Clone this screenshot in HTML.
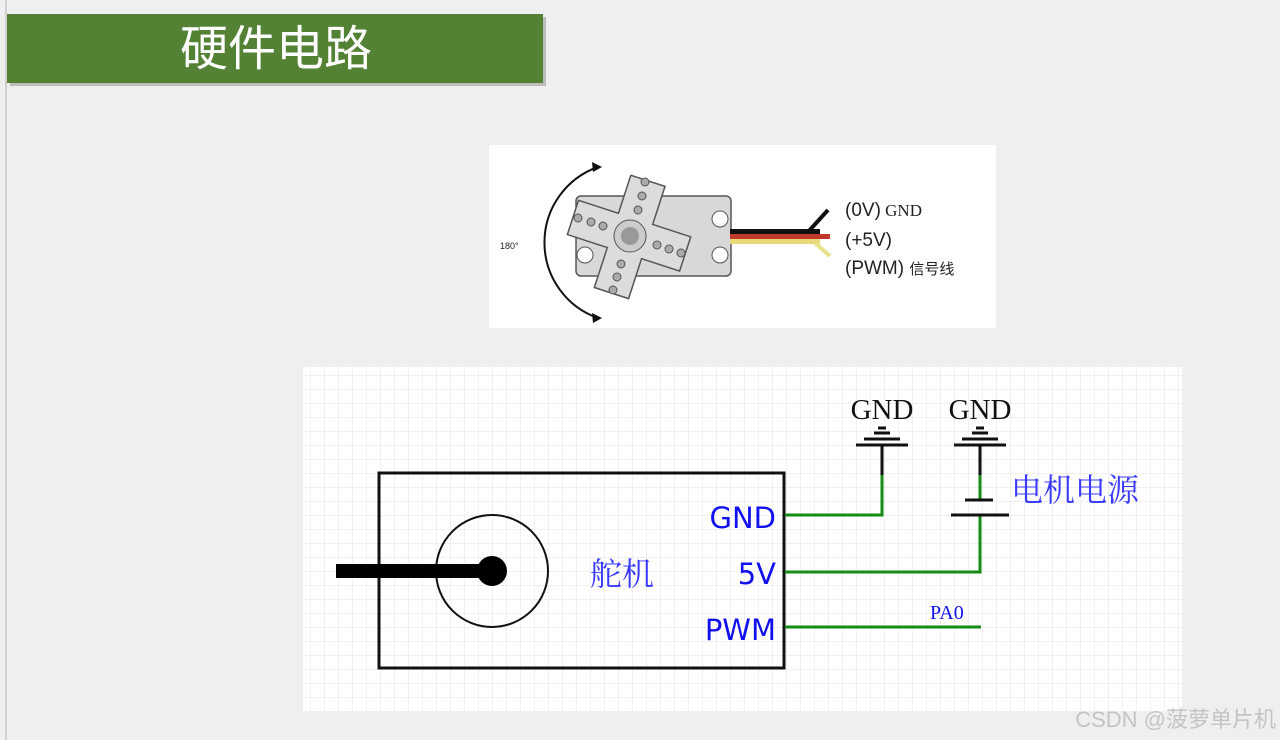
<!DOCTYPE html>
<html><head><meta charset="utf-8"><style>
html,body{margin:0;padding:0;background:#efefef;width:1280px;height:740px;overflow:hidden}
</style></head><body>
<svg width="1280" height="740" xmlns="http://www.w3.org/2000/svg" style="position:absolute;left:0;top:0">
<defs>
<pattern id="g" x="310" y="375" width="14" height="14" patternUnits="userSpaceOnUse">
<rect width="14" height="14" fill="#fff"/>
<path d="M0 0H14M0 0V14" stroke="#e8e8e8" stroke-width="1.2" fill="none"/>
</pattern>
</defs>
<rect x="0" y="0" width="1280" height="740" fill="#efefef"/>
<rect x="5" y="0" width="2" height="740" fill="#d0d0d0"/>
<rect x="10" y="17" width="536" height="69" fill="#9a9a9a" opacity="0.6"/>
<rect x="7" y="14" width="536" height="69" fill="#548235"/>
<text x="276" y="65" text-anchor="middle" font-family="'Liberation Sans','Noto Sans CJK SC',sans-serif" font-size="48" fill="#fff">硬件电路</text>
<rect x="489" y="145" width="507" height="183" fill="#fff"/>
<g>
<path d="M598 167 A80 80 0 0 0 598 318" fill="none" stroke="#111" stroke-width="2"/>
<path d="M592 162 L602 167 L593 172 Z" fill="#111"/>
<path d="M592 313 L602 318 L593 323 Z" fill="#111"/>
<text x="500" y="249" font-family="'Liberation Sans',sans-serif" font-size="9" fill="#222">180°</text>
<rect x="576" y="196" width="155" height="80" rx="5" fill="#d8d8d8" stroke="#555" stroke-width="1.5"/>
<circle cx="720" cy="219" r="8" fill="#fff" stroke="#555"/>
<circle cx="720" cy="255" r="8" fill="#fff" stroke="#555"/>
<circle cx="585" cy="255" r="8" fill="#fff" stroke="#555"/>
<g transform="rotate(18 630 236)" fill="#dcdcdc" stroke="#555" stroke-width="1.5">
<path d="M612 178 h36 v40 h40 v36 h-40 v42 h-36 v-42 h-42 v-36 h42 z"/>
</g>
<circle cx="630" cy="236" r="16" fill="#ccc" stroke="#555"/>
<circle cx="630" cy="236" r="9" fill="#999"/>
<g fill="#aaa" stroke="#555">
<circle cx="645" cy="182" r="4"/><circle cx="642" cy="196" r="4"/><circle cx="638" cy="210" r="4"/>
<circle cx="578" cy="218" r="4"/><circle cx="591" cy="222" r="4"/><circle cx="603" cy="226" r="4"/>
<circle cx="657" cy="245" r="4"/><circle cx="669" cy="249" r="4"/><circle cx="681" cy="253" r="4"/>
<circle cx="621" cy="264" r="4"/><circle cx="617" cy="277" r="4"/><circle cx="613" cy="290" r="4"/>
</g>
<rect x="730" y="229" width="90" height="5" fill="#111"/>
<path d="M808 232 L828 210" stroke="#111" stroke-width="4"/>
<rect x="730" y="234" width="100" height="5" fill="#c0392b"/>
<rect x="730" y="239" width="90" height="5" fill="#e8d878"/>
<path d="M815 243 L830 256" stroke="#e8e08a" stroke-width="4"/>
<text x="845" y="216" font-family="'Liberation Sans',sans-serif" font-size="19" fill="#222">(0V)<tspan font-family="'Liberation Serif',serif" font-size="17"> GND</tspan></text>
<text x="845" y="246" font-family="'Liberation Sans',sans-serif" font-size="19" fill="#222">(+5V)</text>
<text x="845" y="274" font-family="'Liberation Sans','Noto Sans CJK SC',sans-serif" font-size="19" fill="#222">(PWM) <tspan font-size="15">信号线</tspan></text>
</g>
<rect x="303" y="367" width="879" height="344" fill="url(#g)"/>
<rect x="379" y="473" width="405" height="195" fill="none" stroke="#111" stroke-width="3"/>
<circle cx="492" cy="571" r="56" fill="none" stroke="#111" stroke-width="2"/>
<rect x="336" y="564" width="156" height="14" fill="#000"/>
<circle cx="492" cy="571" r="15" fill="#000"/>
<g font-family="'DejaVu Sans','Liberation Sans',sans-serif" font-size="29" fill="#1010ee" text-anchor="end">
<text x="776" y="528">GND</text><text x="776" y="584">5V</text><text x="776" y="640">PWM</text>
</g>
<text x="590" y="585" font-family="'Liberation Serif','Noto Serif CJK SC',serif" font-size="32" fill="#3a3aff">舵机</text>
<g stroke="#168c16" stroke-width="3" fill="none">
<path d="M785 515 H882 V475"/>
<path d="M785 572 H980 V515"/>
<path d="M980 475 V500"/>
<path d="M785 627 H981"/>
</g>
<g stroke="#111" stroke-width="3" fill="none">
<path d="M882 475 V445 M856 445 H908 M864 439 H900 M874 433 H890 M878 428 H886"/>
<path d="M980 475 V445 M954 445 H1006 M962 439 H998 M972 433 H988 M976 428 H984"/>
<path d="M965 500 H993 M951 515 H1009"/>
</g>
<g font-family="'Liberation Serif',serif" font-size="29" fill="#111" text-anchor="middle">
<text x="882" y="419">GND</text><text x="980" y="419">GND</text>
</g>
<text x="1011" y="501" font-family="'Liberation Serif','Noto Serif CJK SC',serif" font-size="32" fill="#3a3aff">电机电源</text>
<text x="930" y="619" font-family="'Liberation Serif',serif" font-size="20" fill="#1010ee">PA0</text>
<text x="1276" y="727" text-anchor="end" font-family="'Liberation Sans','Noto Sans CJK SC',sans-serif" font-size="22" fill="#c4c4c4">CSDN @菠萝单片机</text>
</svg>
</body></html>
